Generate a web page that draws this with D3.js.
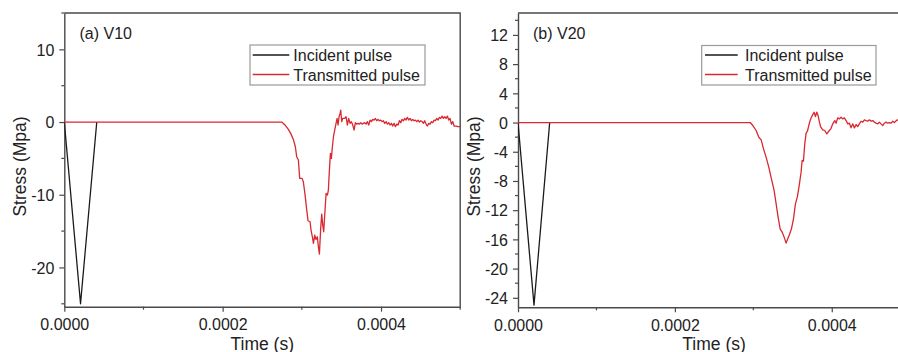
<!DOCTYPE html>
<html>
<head>
<meta charset="utf-8">
<script src="https://cdn.jsdelivr.net/npm/d3@7"></script>
<style>
  html, body { margin: 0; padding: 0; background: #fff; }
  svg { display: block; font-family: "Liberation Sans", Arial, sans-serif; }
</style>
</head>
<body>
<svg id="chart" width="898" height="352"></svg>
<script>
// ---- Data (time in microseconds, stress in MPa) ----
const seriesNames = ["Incident pulse", "Transmitted pulse"];
const panelLabels = ["(a) V10", "(b) V20"];
const xTickLabelsSec = [0, 0.0002, 0.0004];

// Panel (a) V10
const incidentA_t = [0, 20.5, 41];
const incidentA_s = [0, -25, 0];

const transA_t = [0, 274.6, 278.8, 283.0, 285.9, 289.3, 291.8, 293.5, 295.6, 297.3, 300.3, 301.9, 304.1, 306.2, 307.8, 310.4, 311.6, 313.3, 314.6, 316.3, 317.9, 319.6, 320.9, 322.2, 323.8, 325.1, 326.4, 327.6, 329.3, 330.6, 332.3, 333.5, 334.8, 336.1, 337.3, 338.6, 339.9, 341.5, 343.2, 344.5, 345.7, 347.0, 348.3, 349.1, 350.4, 351.6, 354.2, 355.9, 357.5, 359.2, 360.9, 362.6, 364.3, 366.0, 367.6, 369.3, 371.0, 372.7, 374.4, 376.1, 377.7, 379.4, 381.1, 382.8, 384.5, 386.2, 387.9, 389.5, 391.2, 392.9, 394.6, 396.3, 398.0, 399.6, 401.3, 403.0, 404.7, 406.4, 408.1, 409.8, 411.4, 413.1, 414.8, 416.5, 418.2, 419.9, 421.5, 423.2, 424.9, 426.6, 428.3, 430.0, 431.6, 433.3, 435.0, 436.7, 438.4, 440.1, 441.8, 443.4, 445.1, 446.8, 448.5, 450.2, 451.9, 453.5, 455.2, 456.9, 458.6, 460.3, 462.0, 463.7, 465.3, 467.0, 468.7, 470.4, 472.1, 473.8, 475.4, 477.1, 478.8, 480.5, 482.2, 483.9, 485.5, 487.2, 488.9, 490.6, 492.3, 494.8, 497.3, 500];
const transA_s = [0, 0, -0.41, -1.01, -1.56, -2.39, -3.40, -4.77, -5.23, -7.75, -7.75, -8.21, -10.05, -12.11, -13.58, -13.72, -14.86, -15.78, -16.70, -15.55, -16.15, -15.78, -17.16, -18.16, -14.63, -12.66, -14.17, -15.09, -12.11, -9.82, -10.05, -9.36, -6.61, -4.31, -5.0, -3.40, -2.02, -1.10, -0.18, 0.5, -0.41, 0.73, 1.19, 1.65, 0.05, 0.5, 0.5, 0.73, -0.41, 0.5, -0.18, 0.05, -0.41, -1.10, -0.09, -0.28, -0.18, -0.28, -0.09, -0.28, -0.18, -0.09, -0.28, 0.05, -0.41, 0.27, 0.05, 0.37, 0.27, 0.5, 0.18, 0.37, 0.18, 0.27, 0.05, 0.18, -0.18, 0.05, -0.28, -0.09, -0.41, -0.18, -0.55, -0.18, -0.64, -0.28, -0.41, 0.18, -0.09, 0.37, 0.18, 0.5, 0.27, 0.64, 0.27, 0.5, 0.18, 0.37, 0.18, 0.27, 0.05, 0.27, 0, 0.18, 0.05, -0.18, 0.18, -0.28, -0.55, -0.18, -0.28, 0.05, -0.09, 0.27, 0.18, 0.5, 0.27, 0.64, 0.5, 0.82, 0.5, 0.73, 0.5, 0.82, 0.27, 0.5, -0.28, 0.05, -0.55, -0.55, -0.64, -0.64];

// Panel (b) V20
const incidentB_t = [0, 20.4, 40.4];
const incidentB_s = [0, -25, 0];

const transB_t = [0, 296.0, 299.4, 303.6, 307.0, 310.0, 313.0, 316.3, 319.7, 323.1, 326.5, 329.1, 331.6, 334.2, 336.7, 339.3, 341.8, 343.9, 346.1, 348.6, 351.2, 353.7, 356.3, 358.8, 360.9, 362.2, 363.9, 365.6, 367.3, 369.0, 370.7, 372.4, 374.1, 375.8, 377.5, 379.2, 380.9, 382.6, 384.3, 386.0, 388.5, 391.1, 393.6, 396.2, 398.7, 401.3, 403.8, 405.5, 407.6, 409.8, 411.9, 414.0, 416.1, 418.3, 420.4, 422.5, 424.6, 426.7, 428.9, 431.0, 433.1, 435.2, 437.3, 439.5, 441.6, 443.7, 445.8, 448.0, 450.1, 452.2, 454.3, 456.5, 458.6, 460.7, 462.8, 465.0, 467.1, 469.2, 471.3, 473.4, 475.6, 477.7, 479.8, 483.6, 488, 492, 496, 500];
const transB_s = [0, 0, -0.41, -1.09, -2.01, -2.37, -3.60, -4.74, -6.11, -7.71, -9.30, -11.13, -12.95, -14.55, -15.0, -15.69, -16.51, -15.91, -15.32, -14.55, -13.18, -11.13, -10.12, -8.39, -6.79, -5.20, -5.29, -2.92, -1.46, -1.19, -0.41, 0.27, 0.73, 1.09, 1.41, 0.82, 1.41, 0.96, 0.05, -0.64, -1.0, -1.09, -1.55, -1.19, -0.87, -0.18, 0.27, -0.09, 0.64, 0.5, 0.73, 0.5, 0.64, 0.27, -0.18, -0.09, -0.73, -0.18, -0.73, -0.27, -0.55, -0.18, 0.18, 0.05, 0.37, 0.27, 0.18, 0.37, 0.18, 0.27, 0.05, -0.09, -0.18, 0.05, -0.18, -0.41, -0.09, 0.05, -0.09, 0, -0.09, 0.18, 0, 0.37, 0.18, 0.05, 0.2, 0.1];

// ---- Layout ----
const svg = d3.select("#chart");
const axisColor = "#4a4a4a";
const textColor = "#222";
const colors = ["#1a1a1a", "#d9282f"];

const panels = [
  {
    label: panelLabels[0],
    x0: 64.3, x1: 460.2, y0: 13, y1: 306.7,
    yDomain: [-25.4, 15], yMajor: [-20, -10, 0, 10], yMinor: [-25, -15, -5, 5, 15],
    inc: [incidentA_t, incidentA_s], trans: [transA_t, transA_s],
    legend: { x: 250, y: 45, w: 175, h: 40, lx0: 252.7, lx1: 289.3, tx: 293.3 },
    yTitleX: 19.5, labelX: 79.5
  },
  {
    label: panelLabels[1],
    x0: 518.0, x1: 910.2, y0: 13, y1: 307.3,
    yDomain: [-25.3, 15], yMajor: [-24, -20, -16, -12, -8, -4, 0, 4, 8, 12], yMinor: [-22, -18, -14, -10, -6, -2, 2, 6, 10, 14],
    inc: [incidentB_t, incidentB_s], trans: [transB_t, transB_s],
    legend: { x: 701.7, y: 45.5, w: 174.3, h: 39.5, lx0: 705, lx1: 737.7, tx: 745 },
    yTitleX: 474, labelX: 533
  }
];

panels.forEach((p, i) => {
  const x = d3.scaleLinear().domain([0, 500]).range([p.x0, p.x1]);
  const y = d3.scaleLinear().domain(p.yDomain).range([p.y1, p.y0]);
  const g = svg.append("g");

  const clipId = "clip" + i;
  svg.append("defs").append("clipPath").attr("id", clipId)
    .append("rect").attr("x", p.x0).attr("y", p.y0).attr("width", p.x1 - p.x0).attr("height", p.y1 - p.y0);

  // frame (top and right)
  g.append("path")
    .attr("d", `M${p.x0},${p.y0}H${p.x1}V${p.y1}`)
    .attr("fill", "none").attr("stroke", axisColor).attr("stroke-width", 1.4);

  // x axis
  const xAxis = d3.axisBottom(x)
    .tickValues(xTickLabelsSec.map(d => d * 1e6))
    .tickFormat(d => (d / 1e6).toFixed(4))
    .tickSize(5).tickPadding(7).tickSizeOuter(0);
  const gx = g.append("g").attr("transform", `translate(0,${p.y1})`).call(xAxis);
  // minor x ticks
  g.append("g").selectAll("line").data([100, 300, 500]).join("line")
    .attr("x1", d => x(d)).attr("x2", d => x(d))
    .attr("y1", p.y1).attr("y2", p.y1 + 3);

  // y axis (hyphen-minus like the original)
  const yAxis = d3.axisLeft(y).tickValues(p.yMajor).tickFormat(d => String(d))
    .tickSize(5).tickPadding(5).tickSizeOuter(0);
  const gy = g.append("g").attr("transform", `translate(${p.x0},0)`).call(yAxis);
  g.append("g").selectAll("line").data(p.yMinor).join("line")
    .attr("x1", p.x0).attr("x2", p.x0 - 3)
    .attr("y1", d => y(d)).attr("y2", d => y(d));

  g.selectAll("line").attr("stroke", axisColor).attr("stroke-width", 1.2);
  [gx, gy].forEach(a => {
    a.select(".domain").attr("stroke", axisColor).attr("stroke-width", 1.4);
    a.selectAll("text").attr("fill", textColor).style("font-size", "16px")
      .style("font-family", "'Liberation Sans', Arial, sans-serif");
  });
  gy.selectAll("text").attr("dy", "0.36em");

  // lines
  const line = d3.line().x(d => x(d[0])).y(d => y(d[1]));
  const plotG = g.append("g").attr("clip-path", `url(#${clipId})`);
  [p.inc, p.trans].forEach((s, k) => {
    const pts = s[0].map((t, j) => [t, s[1][j]]);
    plotG.append("path").datum(pts).attr("d", line)
      .attr("fill", "none").attr("stroke", colors[k]).attr("stroke-width", 1.3)
      .attr("stroke-linejoin", "round");
  });

  // panel label
  g.append("text").attr("x", p.labelX).attr("y", 38.5).text(p.label)
    .attr("fill", textColor).style("font-size", "16px");

  // axis titles
  g.append("text").attr("x", (p.x0 + p.x1) / 2).attr("y", 349.5)
    .attr("text-anchor", "middle").text("Time (s)")
    .attr("fill", textColor).style("font-size", "17.5px");
  g.append("text")
    .attr("transform", `translate(${p.yTitleX + 6},166.5) rotate(-90)`)
    .attr("text-anchor", "middle").text("Stress (Mpa)")
    .attr("fill", textColor).style("font-size", "17.5px");

  // legend
  const L = p.legend;
  g.append("rect").attr("x", L.x).attr("y", L.y).attr("width", L.w).attr("height", L.h)
    .attr("fill", "#fff").attr("stroke", "#9a9a9a").attr("stroke-width", 1.2);
  seriesNames.forEach((name, k) => {
    const cy = k === 0 ? 55 : 74.5;
    g.append("line").attr("x1", L.lx0).attr("x2", L.lx1).attr("y1", cy).attr("y2", cy)
      .attr("stroke", colors[k]).attr("stroke-width", 1.3);
    g.append("text").attr("x", L.tx).attr("y", k === 0 ? 60.8 : 80.8).text(name)
      .attr("fill", textColor).style("font-size", "16px");
  });
});
</script>
</body>
</html>
